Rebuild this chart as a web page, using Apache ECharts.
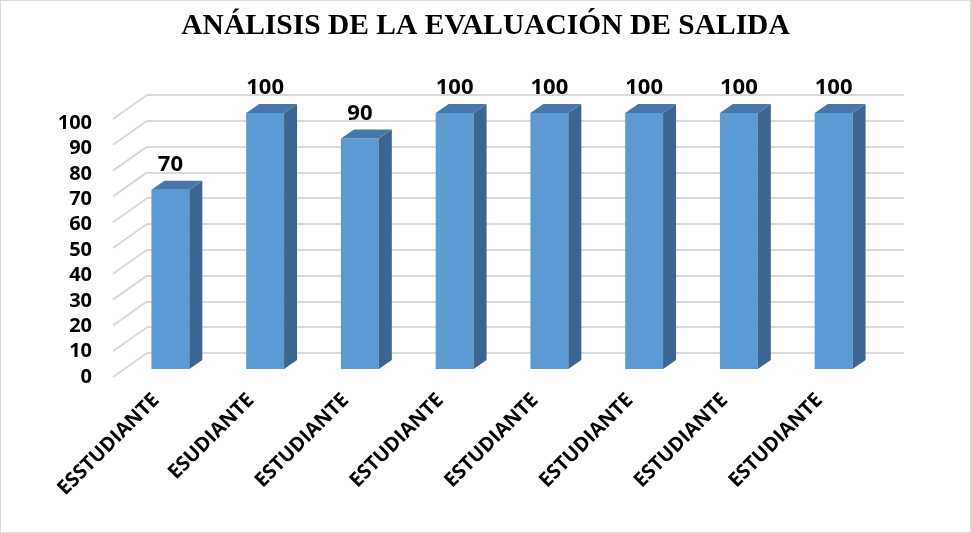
<!DOCTYPE html>
<html>
<head>
<meta charset="utf-8">
<script src="https://cdn.jsdelivr.net/npm/echarts@6/dist/echarts.min.js"></script>
<style>
  html, body { margin: 0; padding: 0; background: #fff; }
  #main { width: 969px; height: 531px; border: 1px solid #d9d9d9; }
</style>
</head>
<body>
<div id="main"></div>
<script>
var categories = ['ESSTUDIANTE', 'ESUDIANTE', 'ESTUDIANTE', 'ESTUDIANTE', 'ESTUDIANTE', 'ESTUDIANTE', 'ESTUDIANTE', 'ESTUDIANTE'];
var scores = [70, 100, 90, 100, 100, 100, 100, 100];
var yTicks = [0, 10, 20, 30, 40, 50, 60, 70, 80, 90, 100];

var myChart = echarts.init(document.getElementById('main'));

/* barras 3D */
function renderBar(params, api) {
  var v = api.value(1);
  var base = api.coord([api.value(0), 0]);
  var top = api.coord([api.value(0), v]);
  var w = api.size([1, 0])[0] * 0.4;
  var x0 = base[0] - w / 2, x1 = base[0] + w / 2;
  var dx = 13, dy = 9;
  return {
    type: 'group',
    children: [
      { type: 'rect', shape: { x: x0, y: top[1], width: w, height: base[1] - top[1] }, style: { fill: '#5B9BD5' } },
      { type: 'polygon', shape: { points: [[x1, top[1]], [x1 + dx, top[1] - dy], [x1 + dx, base[1] - dy], [x1, base[1]]] }, style: { fill: '#3B6691' } },
      { type: 'polygon', shape: { points: [[x0, top[1]], [x0 + dx, top[1] - dy], [x1 + dx, top[1] - dy], [x1, top[1]]] }, style: { fill: '#4677A8' } },
      { type: 'text', x: base[0], y: top[1] - 25, style: { text: String(v), align: 'center', verticalAlign: 'middle', fill: '#000', font: 'bold 22px "Open Sans", sans-serif' } }
    ]
  };
}

/* lineas diagonales del piso */
function renderDiag(params, api) {
  var p = api.coord([0, api.value(1)]);
  var cx = params.coordSys.x;
  return {
    type: 'line',
    shape: { x1: cx - 34, y1: p[1] + 24, x2: cx, y2: p[1] },
    style: { stroke: '#d9d9d9', lineWidth: 2 }
  };
}

var option = {
  animation: false,
  title: {
    text: 'ANÁLISIS DE LA EVALUACIÓN DE SALIDA',
    left: 'center',
    top: 5,
    textStyle: { fontFamily: 'Liberation Serif', fontWeight: 'bold', fontSize: 29.5, color: '#000' }
  },
  grid: [
    { left: 146, right: 66, top: 94, bottom: 179 },
    { left: 122, right: 89, top: 112, bottom: 163 },
    { left: 112, right: 66, top: 122, bottom: 155 }
  ],
  xAxis: [
    { gridIndex: 0, type: 'value', min: 0, max: 1, show: false },
    {
      gridIndex: 1, type: 'category', data: categories,
      axisLine: { show: false }, axisTick: { show: false },
      axisLabel: { rotate: 45, margin: 14, padding: [0, 20, 0, 0], interval: 0, color: '#000', fontWeight: 'bold', fontSize: 20, fontFamily: 'Open Sans' }
    },
    { gridIndex: 2, type: 'value', show: false }
  ],
  yAxis: [
    {
      gridIndex: 0, type: 'value', min: 0, max: 100, interval: 10,
      axisLabel: { show: false }, axisLine: { show: false }, axisTick: { show: false },
      splitLine: { lineStyle: { color: '#d9d9d9', width: 2 } }
    },
    { gridIndex: 1, type: 'value', min: 0, max: 100, show: false },
    {
      gridIndex: 2, type: 'value', min: 0, max: 100, interval: 10,
      axisLine: { show: false }, axisTick: { show: false }, splitLine: { show: false },
      axisLabel: { margin: 21, color: '#000', fontWeight: 'bold', fontSize: 20, fontFamily: 'Open Sans' }
    }
  ],
  series: [
    {
      type: 'custom', xAxisIndex: 0, yAxisIndex: 0, z: 1,
      renderItem: renderDiag,
      data: yTicks.map(function (t) { return [0, t]; })
    },
    {
      type: 'custom', xAxisIndex: 1, yAxisIndex: 1, z: 5,
      renderItem: renderBar,
      data: scores.map(function (s, i) { return [i, s]; })
    }
  ]
};
myChart.setOption(option);
</script>
</body>
</html>
